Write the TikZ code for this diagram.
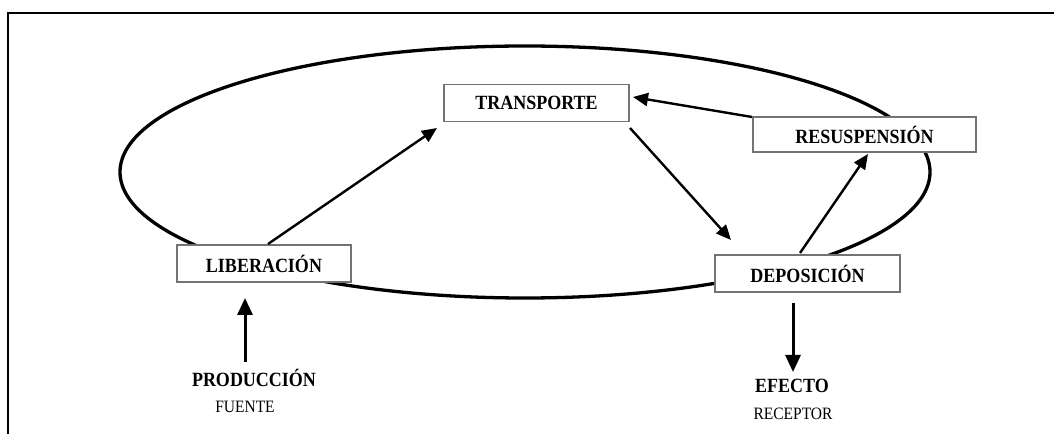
\documentclass[tikz,border=0pt]{standalone}
\usepackage{fontspec}
\setmainfont{Liberation Serif}
\usetikzlibrary{arrows.meta}
\newcommand{\tallcaps}[1]{\scalebox{1}[1.12]{#1}}
\tikzset{
  stagebox/.style={draw=black!55, line width=1.2bp, fill=white, inner sep=0pt,
    minimum height=37bp, font=\fontsize{18bp}{20bp}\selectfont\bfseries},
  flow/.style={line width=2.4bp, -{Triangle[length=15bp,width=13bp]}},
  bigflow/.style={line width=3bp, -{Triangle[length=17bp,width=15bp]}},
  maintxt/.style={inner sep=0pt, font=\fontsize{18bp}{20bp}\selectfont\bfseries},
  subtxt/.style={inner sep=0pt, font=\fontsize{15.5bp}{17bp}\selectfont},
}
\begin{document}
\begin{tikzpicture}[x=1bp,y=-1bp]
\useasboundingbox (0,0) rectangle (1054,434);
% frame
\draw[line width=2bp] (8,434) -- (8,13) -- (1054,13);
% cycle ellipse
\draw[line width=3.3bp] (525,172) ellipse [x radius=405, y radius=126];
% stages
\node[stagebox, minimum width=185bp] (trans) at (536.5,103) {\tallcaps{TRANSPORTE}};
\node[stagebox, minimum width=223bp, minimum height=35bp] (res) at (864.5,134.5) {\tallcaps{RESUSPENSIÓN}};
\node[stagebox, minimum width=174bp] (lib) at (264,263.5) {\tallcaps{LIBERACIÓN}};
\node[stagebox, minimum width=185bp] (dep) at (807.5,273.5) {\tallcaps{DEPOSICIÓN}};
% source / receptor labels
\node[maintxt] (prod) at (254,378) {\tallcaps{PRODUCCIÓN}};
\node[subtxt] (fuente) at (245,407) {\tallcaps{FUENTE}};
\node[maintxt] (efecto) at (792,386) {\tallcaps{EFECTO}};
\node[subtxt] (receptor) at (793,414) {\tallcaps{RECEPTOR}};
% anchor coordinates
\coordinate (libout) at (268,244);
\coordinate (transin) at (437,128);
\coordinate (transout) at (630,128);
\coordinate (depin) at (731,240);
\coordinate (resout) at (752,117);
\coordinate (transin2) at (633,97);
\coordinate (depout) at (800,253);
\coordinate (resin) at (868,154);
\coordinate (prodtop) at (245,362);
\coordinate (libin) at (245,298);
\coordinate (depbot) at (793,303);
\coordinate (efectotop) at (793,372);
% connectors
\draw[flow] (libout) -- (transin);
\draw[flow] (transout) -- (depin);
\draw[flow] (resout) -- (transin2);
\draw[flow] (depout) -- (resin);
\draw[bigflow] (prodtop) -- (libin);
\draw[bigflow] (depbot) -- (efectotop);
\end{tikzpicture}
\end{document}
